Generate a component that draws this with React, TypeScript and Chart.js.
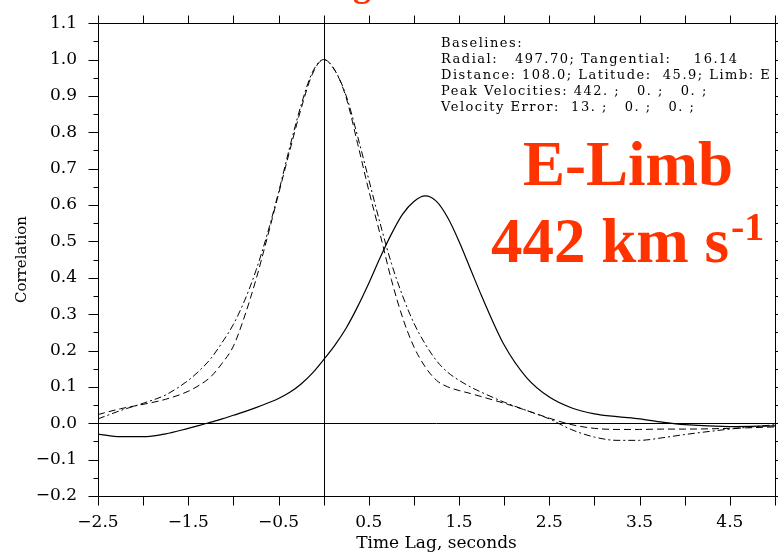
import React, { useEffect, useRef } from "react";
import { Chart, registerables } from "chart.js";

Chart.register(...registerables);

const lags = [-2.5, -2.25, -2.0, -1.75, -1.5, -1.375, -1.25, -1.125, -1.0, -0.875, -0.75, -0.625, -0.5, -0.375, -0.25, -0.125, 0, 0.125, 0.25, 0.375, 0.5, 0.625, 0.75, 0.875, 1.0, 1.125, 1.25, 1.375, 1.5, 1.625, 1.75, 2.0, 2.25, 2.5, 2.75, 3.0, 3.25, 3.5, 3.75, 4.0, 4.5, 5.0];

const dashDotValues = [0.012, 0.035, 0.055, 0.078, 0.118, 0.145, 0.178, 0.222, 0.272, 0.338, 0.42, 0.52, 0.635, 0.76, 0.875, 0.965, 1.0, 0.97, 0.9, 0.79, 0.67, 0.55, 0.44, 0.35, 0.275, 0.218, 0.172, 0.14, 0.118, 0.1, 0.085, 0.058, 0.035, 0.012, -0.018, -0.038, -0.047, -0.047, -0.04, -0.031, -0.016, -0.004];

const dashedValues = [0.024, 0.04, 0.052, 0.066, 0.088, 0.105, 0.128, 0.165, 0.212, 0.295, 0.395, 0.51, 0.63, 0.75, 0.865, 0.96, 1.0, 0.97, 0.895, 0.77, 0.64, 0.52, 0.395, 0.29, 0.21, 0.155, 0.118, 0.1, 0.09, 0.082, 0.073, 0.055, 0.035, 0.014, -0.004, -0.014, -0.017, -0.017, -0.016, -0.016, -0.014, -0.01];

const solidValues = [-0.03, -0.037, -0.037, -0.029, -0.014, -0.006, 0.003, 0.012, 0.022, 0.032, 0.043, 0.055, 0.068, 0.085, 0.108, 0.138, 0.175, 0.215, 0.262, 0.32, 0.385, 0.455, 0.52, 0.575, 0.61, 0.625, 0.61, 0.565, 0.5, 0.425, 0.35, 0.215, 0.125, 0.072, 0.042, 0.026, 0.018, 0.012, 0.003, -0.004, -0.009, -0.007];

const xTickValues = [-2.5, -1.5, -0.5, 0.5, 1.5, 2.5, 3.5, 4.5];
const yTickValues = [-0.2, -0.1, 0.0, 0.1, 0.2, 0.3, 0.4, 0.5, 0.6, 0.7, 0.8, 0.9, 1.0, 1.1];

const infoLines = [
  "Baselines:",
  "Radial:   497.70; Tangential:    16.14",
  "Distance: 108.0; Latitude:  45.9; Limb: E",
  "Peak Velocities: 442. ;   0. ;   0. ;",
  "Velocity Error:  13. ;   0. ;   0. ;",
];

const limbLabel = "E-Limb";
const speedLabel = "442 km s";
const speedExp = "-1";

const fmt = (v: number, d: number) => {
  const s = Math.abs(v).toFixed(d);
  return v < -1e-9 ? "\u2212" + s : s;
};

const toPts = (vals: number[]) => lags.map((x, i) => ({ x, y: vals[i] }));

const framePlugin = {
  id: "frame",
  beforeDatasetsDraw(chart: any) {
    const { ctx, chartArea: a, scales } = chart;
    const xs = scales.x, ys = scales.y;
    ctx.save();
    ctx.strokeStyle = "#000";
    ctx.lineWidth = 1;
    const x0 = Math.round(xs.getPixelForValue(0)) + 0.5;
    const y0 = Math.round(ys.getPixelForValue(0)) + 0.5;
    ctx.beginPath();
    ctx.moveTo(x0, a.top);
    ctx.lineTo(x0, a.bottom);
    ctx.moveTo(a.left, y0);
    ctx.lineTo(a.right, y0);
    ctx.stroke();
    ctx.restore();
  },
  afterDatasetsDraw(chart: any) {
    const { ctx, chartArea: a, scales } = chart;
    const xs = scales.x, ys = scales.y;
    ctx.save();
    ctx.strokeStyle = "#000";
    ctx.lineWidth = 1;
    const L = Math.round(a.left) + 0.5, R = Math.round(a.right) + 0.5;
    const T = Math.round(a.top) + 0.5, B = Math.round(a.bottom) + 0.5;
    ctx.beginPath();
    ctx.rect(L, T, R - L, B - T);
    for (let i = 0; i <= 15; i++) {
      const v = -2.5 + i * 0.5;
      const px = Math.round(xs.getPixelForValue(v)) + 0.5;
      ctx.moveTo(px, B);
      ctx.lineTo(px, B + 9);
      ctx.moveTo(px, T);
      ctx.lineTo(px, T - 8);
    }
    for (let i = 0; i <= 26; i++) {
      const v = -0.2 + i * 0.05;
      const py = Math.round(ys.getPixelForValue(v)) + 0.5;
      const len = i % 2 === 0 ? 10 : 5;
      ctx.moveTo(L, py);
      ctx.lineTo(L - len, py);
      ctx.moveTo(R, py);
      ctx.lineTo(R + len, py);
    }
    ctx.stroke();

    ctx.fillStyle = "#000";
    ctx.font = '13px "DejaVu Serif"';
    (ctx as any).letterSpacing = "1.5px";
    ctx.textBaseline = "alphabetic";
    ctx.textAlign = "left";
    infoLines.forEach((t, i) => ctx.fillText(t, 441, 47 + i * 16));
    (ctx as any).letterSpacing = "0px";

    ctx.fillStyle = "#ff3300";
    ctx.font = 'bold 63px "Liberation Serif"';
    ctx.fillText(limbLabel, 523, 185);
    ctx.fillText(speedLabel, 491, 262);
    const w = ctx.measureText(speedLabel).width;
    ctx.font = 'bold 40px "Liberation Serif"';
    ctx.fillText(speedExp, 491 + w + 2, 240);
    ctx.font = 'bold 36px "Liberation Serif"';
    ctx.fillText("g", 353, -4);
    ctx.restore();
  },
};

export default function App() {
  const ref = useRef<HTMLCanvasElement | null>(null);
  useEffect(() => {
    if (!ref.current) return;
    const chart = new Chart(ref.current, {
      type: "line",
      data: {
        datasets: [
          {
            label: "dash-dot",
            data: toPts(dashDotValues),
            borderColor: "#000",
            borderWidth: 1,
            borderDash: [7, 3, 2, 3],
            pointRadius: 0,
            cubicInterpolationMode: "monotone",
            fill: false,
          },
          {
            label: "dashed",
            data: toPts(dashedValues),
            borderColor: "#000",
            borderWidth: 1,
            borderDash: [7, 4],
            pointRadius: 0,
            cubicInterpolationMode: "monotone",
            fill: false,
          },
          {
            label: "solid",
            data: toPts(solidValues),
            borderColor: "#000",
            borderWidth: 1.2,
            pointRadius: 0,
            cubicInterpolationMode: "monotone",
            fill: false,
          },
        ],
      },
      options: {
        responsive: false,
        animation: false,
        layout: { padding: { top: 19, right: 3, left: 0, bottom: 0 } },
        plugins: { legend: { display: false }, tooltip: { enabled: false } },
        scales: {
          x: {
            type: "linear",
            min: -2.5,
            max: 5,
            afterBuildTicks: (s: any) => {
              s.ticks = xTickValues.map((v) => ({ value: v }));
            },
            afterFit: (s: any) => {
              s.height = 58;
            },
            grid: { display: false },
            border: { display: false },
            ticks: {
              autoSkip: false,
              maxRotation: 0,
              padding: 8,
              color: "#000",
              font: { family: "DejaVu Serif", size: 17 },
              callback: (v: any) => fmt(Number(v), 1),
            },
            title: {
              display: true,
              text: "Time Lag, seconds",
              color: "#000",
              font: { family: "DejaVu Serif", size: 17 },
              padding: { top: 0, bottom: 0 },
            },
          },
          y: {
            type: "linear",
            min: -0.2,
            max: 1.1,
            afterBuildTicks: (s: any) => {
              s.ticks = yTickValues.map((v) => ({ value: v }));
            },
            afterFit: (s: any) => {
              s.width = 98;
            },
            grid: { display: false },
            border: { display: false },
            ticks: {
              autoSkip: false,
              padding: 13,
              color: "#000",
              font: { family: "DejaVu Serif", size: 17 },
              callback: (v: any) => fmt(Number(v), 1),
            },
            title: {
              display: true,
              text: "Correlation",
              color: "#000",
              font: { family: "DejaVu Serif", size: 15 },
              padding: { top: 13, bottom: 0 },
            },
          },
        },
      },
      plugins: [framePlugin],
    } as any);
    return () => chart.destroy();
  }, []);
  return (
    <div style={{ position: "absolute", left: 0, top: 0, width: 778, height: 554, background: "#fff" }}>
      <canvas ref={ref} width={778} height={554} style={{ display: "block" }} />
    </div>
  );
}
